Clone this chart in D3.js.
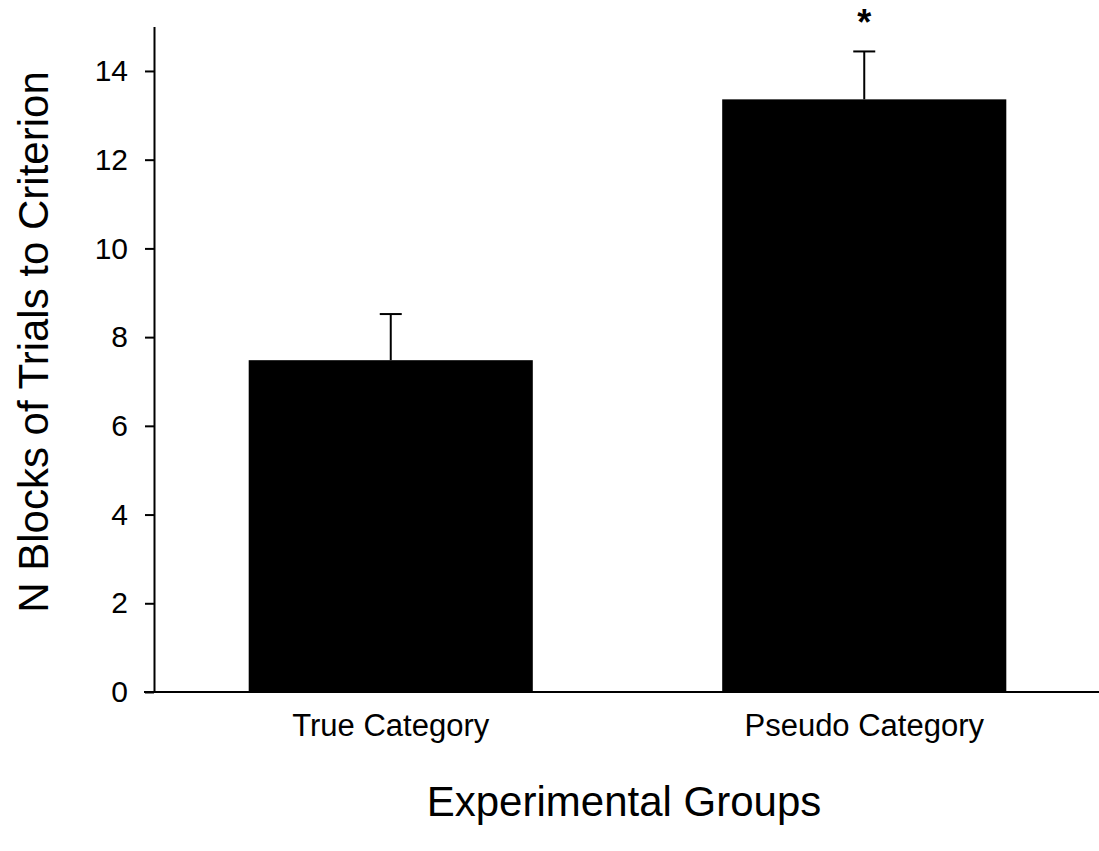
<!DOCTYPE html>
<html>
<head>
<meta charset="utf-8">
<script src="https://cdn.jsdelivr.net/npm/d3@7"></script>
<style>
  html, body { margin: 0; padding: 0; background: #fff; }
  svg { display: block; font-family: "Liberation Sans", Arial, sans-serif; }
</style>
</head>
<body>
<svg id="chart" width="1099" height="851"></svg>
<script>
// Group means and upper error (mean + SE) for trials-to-criterion
const groups = ["True Category", "Pseudo Category"];
const means = [7.48, 13.36];
const errors = [1.04, 1.08];
const significant = [false, true];
const yTicks = [0, 2, 4, 6, 8, 10, 12, 14];

const svg = d3.select("#chart");

const x = d3.scaleBand()
  .domain(groups)
  .range([154, 1101])
  .paddingInner(0.4)
  .paddingOuter(0.2);

const y = d3.scaleLinear()
  .domain([0, 15])
  .range([692, 26.6]);

// Bars
svg.append("g").selectAll("rect")
  .data(groups)
  .join("rect")
  .attr("x", d => x(d))
  .attr("y", (d, i) => y(means[i]))
  .attr("width", x.bandwidth())
  .attr("height", (d, i) => y(0) - y(means[i]))
  .attr("fill", "#000");

// Upper error bars
const capW = 22;
const eb = svg.append("g").attr("stroke", "#000").attr("stroke-width", 2);
groups.forEach((g, i) => {
  const cx = x(g) + x.bandwidth() / 2;
  eb.append("line")
    .attr("x1", cx).attr("x2", cx)
    .attr("y1", y(means[i])).attr("y2", y(means[i] + errors[i]));
  eb.append("line")
    .attr("x1", cx - capW / 2).attr("x2", cx + capW / 2)
    .attr("y1", y(means[i] + errors[i])).attr("y2", y(means[i] + errors[i]));
});

// Significance marker
svg.append("g").selectAll("text")
  .data(groups.filter((g, i) => significant[i]))
  .join("text")
  .attr("x", d => x(d) + x.bandwidth() / 2)
  .attr("y", 35)
  .attr("text-anchor", "middle")
  .attr("font-size", 36)
  .attr("font-weight", "bold")
  .text("*");

// Y axis
const yAxis = svg.append("g")
  .attr("transform", "translate(154,0)")
  .call(d3.axisLeft(y).tickValues(yTicks).tickSize(9).tickPadding(17).tickSizeOuter(0));
yAxis.select(".domain").attr("stroke-width", 2);
yAxis.selectAll(".tick line").attr("stroke-width", 2);
yAxis.selectAll(".tick text")
  .attr("font-size", 30)
  .attr("font-family", "Liberation Sans, Arial, sans-serif")
  .attr("fill", "#000");

// X axis baseline
svg.append("line")
  .attr("x1", 144).attr("x2", 1099)
  .attr("y1", y(0)).attr("y2", y(0))
  .attr("stroke", "#000").attr("stroke-width", 2);

// Category labels
svg.append("g").selectAll("text")
  .data(groups)
  .join("text")
  .attr("x", d => x(d) + x.bandwidth() / 2)
  .attr("y", 736)
  .attr("text-anchor", "middle")
  .attr("font-size", 31)
  .text(d => d);

// Axis titles
svg.append("text")
  .attr("x", 624)
  .attr("y", 816)
  .attr("text-anchor", "middle")
  .attr("font-size", 42)
  .text("Experimental Groups");

svg.append("text")
  .attr("transform", "translate(48,342) rotate(-90)")
  .attr("text-anchor", "middle")
  .attr("font-size", 42)
  .text("N Blocks of Trials to Criterion");
</script>
</body>
</html>
